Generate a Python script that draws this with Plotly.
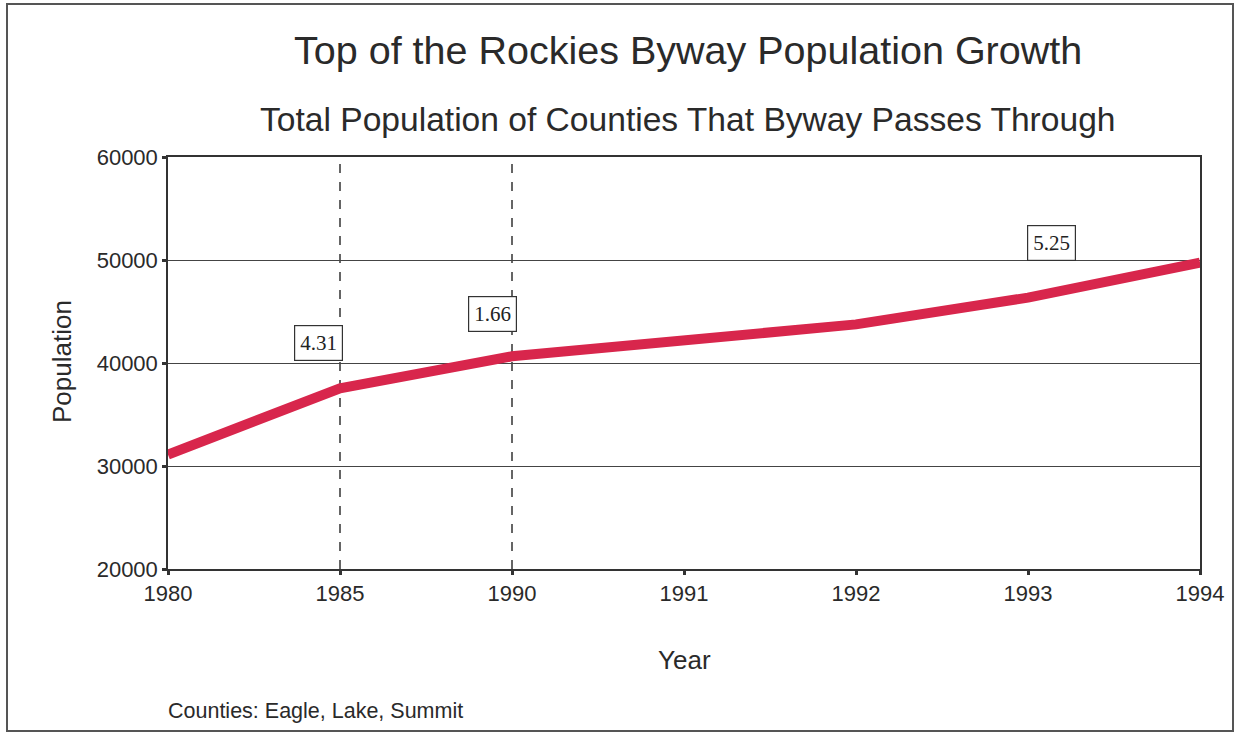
import plotly.graph_objects as go

# Population totals for Eagle, Lake and Summit counties
years = ["1980", "1985", "1990", "1991", "1992", "1993", "1994"]
population = [31100, 37550, 40650, 42100, 43750, 46350, 49750]

# Annual growth rates (%) shown in the callout boxes, keyed by the year they sit above
rate_years = ["1985", "1990", "1993"]
rate_labels = ["4.31", "1.66", "5.25"]
rate_shift = [(-22, 45), (-20, 42), (23, 55)]

# Years marked with a dashed reference line
marker_years = ["1985", "1990"]

y_ticks = [20000, 30000, 40000, 50000, 60000]

W, H = 1238, 734
L, R, T, B = 168, 38, 157, 165
pw, ph = W - L - R, H - T - B


def px(x):
    return (x - L) / pw


def py(y):
    return (H - B - y) / ph


SANS = "Liberation Sans, Arial, sans-serif"
SERIF = "Liberation Serif, Times New Roman, serif"
INK = "#2a2a2a"

fig = go.Figure()
fig.add_trace(go.Scatter(
    x=list(range(len(years))), y=population, mode="lines",
    line=dict(color="#d8264c", width=10), hoverinfo="skip", showlegend=False,
))

shapes = []
for yr in marker_years:
    i = years.index(yr)
    shapes.append(dict(type="line", xref="x", yref="paper", x0=i, x1=i, y0=0, y1=1,
                       line=dict(color="#333", width=1.5, dash="dash"), layer="below"))
# page frame
shapes.append(dict(type="rect", xref="paper", yref="paper",
                   x0=px(7), x1=px(1233), y0=py(4), y1=py(731),
                   line=dict(color="#555", width=2)))

annotations = [
    dict(text="Top of the Rockies Byway Population Growth", xref="paper", yref="paper",
         x=px(688), y=py(50), xanchor="center", yanchor="middle", showarrow=False,
         font=dict(family=SANS, size=39.5, color=INK)),
    dict(text="Total Population of Counties That Byway Passes Through", xref="paper", yref="paper",
         x=px(688), y=py(120), xanchor="center", yanchor="middle", showarrow=False,
         font=dict(family=SANS, size=33.6, color=INK)),
    dict(text="Population", xref="paper", yref="paper", x=px(62), y=py(362),
         xanchor="center", yanchor="middle", textangle=-90, showarrow=False,
         font=dict(family=SANS, size=26, color=INK)),
    dict(text="Year", xref="paper", yref="paper", x=px(684), y=py(660),
         xanchor="center", yanchor="middle", showarrow=False,
         font=dict(family=SANS, size=26, color=INK)),
    dict(text="Counties: Eagle, Lake, Summit", xref="paper", yref="paper", x=px(166), y=py(711),
         xanchor="left", yanchor="middle", showarrow=False,
         font=dict(family=SANS, size=21.5, color=INK)),
]
for yr, lab, (dx, dy) in zip(rate_years, rate_labels, rate_shift):
    i = years.index(yr)
    annotations.append(dict(
        text=lab, xref="x", yref="y", x=i, y=population[i], xshift=dx, yshift=dy,
        showarrow=False, font=dict(family=SERIF, size=21, color="#222"),
        bgcolor="white", bordercolor="#333", borderwidth=1.2, borderpad=5,
    ))

fig.update_layout(
    width=W, height=H, margin=dict(l=L, r=R, t=T, b=B),
    paper_bgcolor="white", plot_bgcolor="white",
    shapes=shapes, annotations=annotations,
    xaxis=dict(
        tickmode="array", tickvals=list(range(len(years))), ticktext=years,
        range=[0, len(years) - 1], showgrid=False, zeroline=False,
        showline=True, linecolor="#333", linewidth=1.5, mirror=True,
        ticks="outside", ticklen=4, tickwidth=3, tickcolor="#333",
        tickfont=dict(family=SANS, size=22, color=INK),
    ),
    yaxis=dict(
        range=[20000, 60000], tickvals=y_ticks, ticktext=[str(v) for v in y_ticks],
        showgrid=True, gridcolor="#444", gridwidth=1.2, zeroline=False,
        showline=True, linecolor="#333", linewidth=1.5, mirror=True,
        ticks="outside", ticklen=4, tickwidth=3, tickcolor="#333",
        tickfont=dict(family=SANS, size=22, color=INK),
    ),
)

fig.write_html("out.html")
